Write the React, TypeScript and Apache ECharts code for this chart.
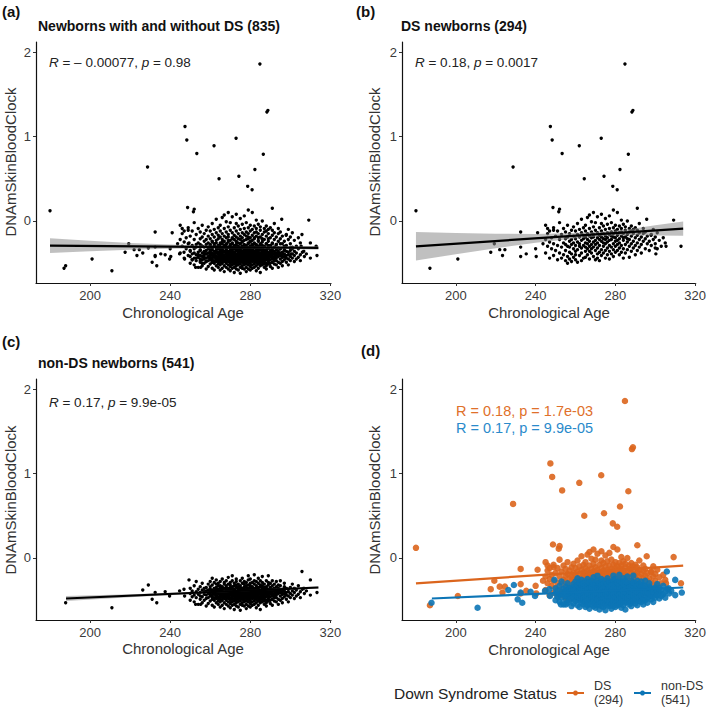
import React, { useEffect, useRef } from "react";
import * as echarts from "echarts";

// ---------- data ----------
const dsOutliers: [number, number][] = [
  [180, 0.12], [187, -0.56], [201, -0.45], [217.5, -0.37], [219.3, -0.27], [222, -0.34],
  [223.4, -0.41], [224.6, -0.34], [228.7, 0.64], [232.5, -0.13], [232.5, -0.31], [232.5, -0.42],
  [235.3, -0.39], [240, -0.33], [240.3, -0.42], [241, -0.14], [243.7, -0.27], [246, -0.09],
  [247.4, 1.12], [248.3, 0.96], [248.7, 0.16], [249, -0.11], [251.6, 0.11], [252, 0.14],
  [253.3, 0.8], [261.9, 0.89], [264.4, 0.5], [272.9, 0.98], [274.3, 0.53], [278.7, 0.41],
  [280.9, 0.37], [282.3, 0.61], [284.8, 1.86], [286.5, 0.79], [288.3, 1.29], [288.8, 1.31],
  [291, 0.15], [295.7, 0.02], [309.2, 0.01], [312.9, -0.3], [305.4, -0.3], [300, -0.32],
  [300.3, -0.39], [297.9, -0.17],
];

const dsCluster: [number, number[]][] = [
  [245, [-0.22, -0.38, -0.05]], [246, [-0.3, -0.15]], [247, [-0.44, -0.25, -0.12]],
  [248, [-0.33, -0.2]], [249, [-0.27, -0.41, -0.08]], [250, [-0.18, -0.35]],
  [251, [-0.29, -0.46, -0.12]], [252, [-0.22, -0.38, -0.02]], [253, [-0.31, -0.16, -0.44]],
  [254, [-0.26, -0.09, -0.4]], [255, [-0.35, -0.21, -0.47, -0.13, -0.28]],
  [256, [-0.19, -0.42, -0.3, -0.5, -0.05]], [257, [-0.24, -0.37, -0.15, -0.45, -0.31]],
  [258, [-0.28, -0.11, -0.39, -0.22, -0.48]], [259, [-0.33, -0.18, -0.43, -0.26, -0.07]],
  [260, [-0.21, -0.36, -0.12, -0.46, -0.29, -0.4]], [261, [-0.25, -0.49, -0.16, -0.34, -0.03]],
  [262, [-0.3, -0.19, -0.41, -0.1, -0.27]], [263, [-0.23, -0.38, -0.14, -0.47, -0.32, 0.02]],
  [264, [-0.17, -0.29, -0.44, -0.21, -0.08]], [265, [-0.26, -0.12, -0.36, -0.19, -0.43, -0.05, -0.31]],
  [266, [-0.22, -0.33, -0.15, -0.4, 0.04, -0.27]], [267, [-0.18, -0.3, -0.09, -0.45, -0.24, -0.36, 0.07]],
  [268, [-0.28, -0.13, -0.38, -0.2, -0.01, -0.33]], [269, [-0.16, -0.25, -0.42, -0.07, -0.31, -0.19, 0.1]],
  [270, [-0.23, -0.35, -0.11, -0.46, -0.28, -0.02]], [271, [-0.2, -0.32, -0.14, -0.39, 0.05, -0.26, -0.44]],
  [272, [-0.17, -0.29, -0.08, -0.37, -0.22, -0.47]], [273, [-0.24, -0.12, -0.34, -0.03, -0.19, -0.41, 0.08]],
  [274, [-0.21, -0.3, -0.15, -0.38, -0.06, -0.26]], [275, [-0.18, -0.27, -0.1, -0.35, -0.44, -0.22, 0.03]],
  [276, [-0.25, -0.14, -0.32, -0.04, -0.2, -0.4]], [277, [-0.16, -0.29, -0.09, -0.36, -0.23, 0.06, -0.45]],
  [278, [-0.22, -0.13, -0.31, -0.18, -0.39, -0.02]], [279, [-0.19, -0.27, -0.08, -0.34, -0.15, 0.13, -0.42]],
  [280, [-0.24, -0.12, -0.3, -0.05, -0.2, -0.37]], [281, [-0.17, -0.28, -0.1, -0.35, 0.1, -0.23]],
  [282, [-0.21, -0.14, -0.32, -0.06, -0.4, -0.26]], [283, [-0.18, -0.29, -0.09, -0.37, -0.13, 0.01]],
  [284, [-0.23, -0.15, -0.33, -0.04, -0.44, -0.2]], [285, [-0.19, -0.28, -0.11, -0.38, -0.07]],
  [286, [-0.16, -0.25, -0.34, 0.0, -0.21]], [287, [-0.22, -0.13, -0.3, -0.43, -0.09]],
  [288, [-0.18, -0.27, -0.06, -0.36, -0.12]], [289, [-0.24, -0.15, -0.1, -0.32]],
  [290, [-0.2, -0.29, -0.08, -0.4]], [291, [-0.17, -0.26, -0.35, -0.11]],
  [292, [-0.22, -0.14, -0.31, -0.03]], [293, [-0.19, -0.28, -0.38]], [294, [-0.15, -0.24, -0.09]],
  [295, [-0.21, -0.33, -0.13]], [296, [-0.18, -0.27]], [297, [-0.24, -0.35]], [298, [-0.16, -0.29]],
  [299, [-0.22, -0.1]], [300, [-0.27, -0.19]], [301, [-0.14, -0.33]], [302, [-0.23]],
  [303, [-0.3]], [304, [-0.2]], [305, [-0.26]],
];

const nonDSOutliers: [number, number][] = [
  [187.8, -0.53], [210.9, -0.59], [226.3, -0.38], [229.1, -0.32], [231, -0.49], [233.3, -0.53],
  [232.5, -0.41], [237.5, -0.4], [239.7, -0.45], [244.7, -0.39], [246.9, -0.37], [249.4, -0.26],
  [247.2, -0.45], [252.7, -0.55], [255.2, -0.55], [305.8, -0.16], [310, -0.26], [313.3, -0.41],
  [306.7, -0.36],
];

const nonDSCluster: [number, number[]][] = [
  [250, [-0.42, -0.36, -0.5]], [251, [-0.39, -0.46]], [252, [-0.44, -0.33, -0.52]],
  [253, [-0.4, -0.47, -0.28]], [254, [-0.37, -0.43, -0.55]], [255, [-0.41, -0.34, -0.49, -0.45]],
  [256, [-0.38, -0.46, -0.3, -0.53]], [257, [-0.43, -0.36, -0.5, -0.4]],
  [258, [-0.35, -0.44, -0.57, -0.39, -0.48]], [259, [-0.42, -0.31, -0.47, -0.38, -0.54]],
  [260, [-0.4, -0.45, -0.34, -0.51, -0.28, -0.43, -0.37]],
  [261, [-0.44, -0.38, -0.49, -0.32, -0.41, -0.56, -0.46, -0.24]],
  [262, [-0.36, -0.43, -0.5, -0.39, -0.29, -0.47, -0.41, -0.58]],
  [263, [-0.42, -0.35, -0.48, -0.31, -0.45, -0.38, -0.53, -0.44, -0.26]],
  [264, [-0.39, -0.46, -0.33, -0.51, -0.42, -0.37, -0.48, -0.55, -0.3]],
  [265, [-0.41, -0.36, -0.49, -0.44, -0.28, -0.52, -0.39, -0.46, -0.33, -0.58]],
  [266, [-0.43, -0.38, -0.47, -0.34, -0.5, -0.41, -0.25, -0.45, -0.56, -0.37]],
  [267, [-0.4, -0.46, -0.31, -0.53, -0.44, -0.36, -0.48, -0.42, -0.29, -0.6]],
  [268, [-0.37, -0.45, -0.5, -0.39, -0.33, -0.47, -0.42, -0.55, -0.27, -0.44, -0.35]],
  [269, [-0.42, -0.48, -0.36, -0.52, -0.4, -0.31, -0.45, -0.57, -0.38, -0.23, -0.46]],
  [270, [-0.39, -0.44, -0.5, -0.35, -0.47, -0.41, -0.29, -0.54, -0.43, -0.37, -0.59, -0.32]],
  [271, [-0.41, -0.46, -0.34, -0.52, -0.38, -0.44, -0.27, -0.49, -0.42, -0.56, -0.36, -0.21]],
  [272, [-0.43, -0.37, -0.48, -0.33, -0.51, -0.4, -0.45, -0.3, -0.55, -0.42, -0.61, -0.38]],
  [273, [-0.4, -0.46, -0.35, -0.5, -0.43, -0.28, -0.53, -0.39, -0.47, -0.32, -0.57, -0.44, -0.25]],
  [274, [-0.42, -0.37, -0.49, -0.34, -0.45, -0.52, -0.4, -0.31, -0.47, -0.58, -0.36, -0.43]],
  [275, [-0.38, -0.44, -0.51, -0.33, -0.46, -0.41, -0.27, -0.55, -0.39, -0.48, -0.35, -0.62, -0.42]],
  [276, [-0.41, -0.47, -0.36, -0.53, -0.43, -0.3, -0.49, -0.38, -0.45, -0.24, -0.56, -0.4]],
  [277, [-0.44, -0.39, -0.5, -0.34, -0.46, -0.42, -0.57, -0.31, -0.48, -0.37, -0.52, -0.41, -0.28]],
  [278, [-0.4, -0.45, -0.35, -0.51, -0.43, -0.29, -0.48, -0.38, -0.55, -0.42, -0.33, -0.6, -0.46]],
  [279, [-0.42, -0.37, -0.49, -0.32, -0.45, -0.52, -0.4, -0.26, -0.47, -0.36, -0.57, -0.43, -0.21]],
  [280, [-0.39, -0.44, -0.5, -0.35, -0.47, -0.41, -0.3, -0.54, -0.38, -0.46, -0.33, -0.58, -0.42, -0.25]],
  [281, [-0.43, -0.38, -0.48, -0.34, -0.45, -0.52, -0.4, -0.29, -0.47, -0.36, -0.56, -0.41]],
  [282, [-0.41, -0.46, -0.36, -0.51, -0.43, -0.31, -0.48, -0.39, -0.55, -0.44, -0.27, -0.37, -0.2]],
  [283, [-0.38, -0.44, -0.49, -0.33, -0.46, -0.41, -0.53, -0.36, -0.28, -0.47, -0.59, -0.42]],
  [284, [-0.42, -0.37, -0.48, -0.35, -0.45, -0.51, -0.3, -0.4, -0.56, -0.43, -0.24, -0.39]],
  [285, [-0.4, -0.46, -0.34, -0.5, -0.43, -0.38, -0.27, -0.53, -0.41, -0.47, -0.32, -0.61]],
  [286, [-0.44, -0.39, -0.49, -0.33, -0.45, -0.36, -0.52, -0.42, -0.29, -0.47, -0.22]],
  [287, [-0.41, -0.46, -0.37, -0.51, -0.43, -0.31, -0.48, -0.39, -0.55, -0.35, -0.44]],
  [288, [-0.38, -0.43, -0.5, -0.34, -0.46, -0.41, -0.27, -0.53, -0.4, -0.57, -0.36]],
  [289, [-0.42, -0.37, -0.48, -0.32, -0.45, -0.51, -0.4, -0.29, -0.44, -0.21]],
  [290, [-0.4, -0.46, -0.35, -0.5, -0.42, -0.3, -0.54, -0.38]],
  [291, [-0.43, -0.37, -0.49, -0.33, -0.45, -0.56, -0.4, -0.27]],
  [292, [-0.39, -0.45, -0.36, -0.51, -0.42, -0.31, -0.47]],
  [293, [-0.41, -0.47, -0.34, -0.52, -0.38, -0.44, -0.28]],
  [294, [-0.42, -0.36, -0.49, -0.39, -0.55, -0.32]],
  [295, [-0.38, -0.45, -0.33, -0.5, -0.41, -0.27]],
  [296, [-0.43, -0.37, -0.48, -0.4, -0.53]], [297, [-0.39, -0.46, -0.34, -0.42, -0.3]],
  [298, [-0.41, -0.36, -0.49, -0.44]], [299, [-0.37, -0.45, -0.4, -0.52]],
  [300, [-0.42, -0.35, -0.47]], [301, [-0.39, -0.44, -0.31]], [302, [-0.41, -0.48, -0.36]],
  [303, [-0.38, -0.45]], [304, [-0.43, -0.33]], [305, [-0.4, -0.47]], [306, [-0.37]],
  [307, [-0.42]], [308, [-0.39]], [310, [-0.44]],
];

// fitted lines (endpoints)
const fitAll: [number, number][] = [[180, -0.293], [314, -0.32]];
const fitDS: [number, number][] = [[180, -0.3], [314, -0.09]];
const fitNonDS: [number, number][] = [[188, -0.48], [314, -0.35]];

// confidence bands [x, lower, upper]
const bandAll: [number, number, number][] = [
  [180, -0.38, -0.206], [200, -0.359, -0.235], [220, -0.341, -0.261], [240, -0.33, -0.28],
  [260, -0.324, -0.294], [275, -0.324, -0.3], [290, -0.329, -0.301], [314, -0.342, -0.298],
];
const bandDS: [number, number, number][] = [
  [180, -0.468, -0.132], [200, -0.394, -0.144], [220, -0.322, -0.152], [240, -0.258, -0.154],
  [260, -0.208, -0.142], [270, -0.187, -0.131], [280, -0.173, -0.113], [290, -0.17, -0.086],
  [300, -0.172, -0.052], [314, -0.175, -0.005],
];
const bandNonDS: [number, number, number][] = [
  [188, -0.51, -0.45], [220, -0.465, -0.429], [250, -0.426, -0.406], [275, -0.396, -0.384],
  [300, -0.374, -0.354], [314, -0.364, -0.336],
];

const xTicks = [200, 240, 280, 320];
const yTicks = [0, 1, 2];

// ---------- chart ----------
const FONT = "'Liberation Sans', Arial, Helvetica, sans-serif";
const ORANGE = "#DB651D";
const BLUE = "#0C75B6";

const flatten = (rows: [number, number[]][]) =>
  rows.flatMap(([x, ys]) => ys.map((y) => [x, y] as [number, number]));

const dsPoints = [...dsOutliers, ...flatten(dsCluster)];
const nonDSPoints = [...nonDSOutliers, ...flatten(nonDSCluster)];
const allPoints = [...dsPoints, ...nonDSPoints];

const grids = [
  { left: 36, top: 42, width: 295, height: 241 },
  { left: 402, top: 42, width: 295, height: 241 },
  { left: 36, top: 379, width: 295, height: 241 },
  { left: 402, top: 379, width: 295, height: 241 },
];

function xAxisFor(i: number) {
  return {
    type: "value",
    gridIndex: i,
    min: 173,
    max: 320.3,
    axisLine: { show: true, onZero: false, lineStyle: { color: "#111", width: 1.2 } },
    axisTick: { show: true, customValues: xTicks, length: 3, lineStyle: { color: "#333" } },
    axisLabel: { customValues: xTicks, fontSize: 13, color: "#3a3a3a", margin: 6, fontFamily: FONT },
    splitLine: { show: false },
  };
}
function yAxisFor(i: number) {
  return {
    type: "value",
    gridIndex: i,
    min: -0.735,
    max: 2.12,
    axisLine: { show: true, onZero: false, lineStyle: { color: "#111", width: 1.2 } },
    axisTick: { show: true, customValues: yTicks, length: 3, lineStyle: { color: "#333" } },
    axisLabel: { customValues: yTicks, fontSize: 13, color: "#3a3a3a", margin: 5, fontFamily: FONT },
    splitLine: { show: false },
  };
}

function bandSeries(i: number, band: [number, number, number][]) {
  return {
    type: "custom",
    xAxisIndex: i,
    yAxisIndex: i,
    z: 3,
    silent: true,
    data: band,
    renderItem: (params: any, api: any) => {
      if (params.dataIndex !== 0) return null;
      const upper = band.map((r) => api.coord([r[0], r[2]]));
      const lower = band.map((r) => api.coord([r[0], r[1]])).reverse();
      return {
        type: "polygon",
        shape: { points: [...upper, ...lower] },
        style: { fill: "#8c8c8c", opacity: 0.55 },
      };
    },
  };
}

function lineSeries(i: number, data: [number, number][], color: string, width: number) {
  return {
    type: "line",
    xAxisIndex: i,
    yAxisIndex: i,
    data,
    z: 4,
    showSymbol: false,
    symbol: "none",
    silent: true,
    lineStyle: { color, width },
  };
}

function scatter(i: number, data: [number, number][], color: string, size: number, opacity = 1) {
  return {
    type: "scatter",
    xAxisIndex: i,
    yAxisIndex: i,
    data,
    z: 2,
    symbolSize: size,
    silent: true,
    itemStyle: { color, opacity },
  };
}

const txt = (x: number, y: number, text: string, opts: any = {}) => ({
  type: "text",
  x,
  y,
  silent: true,
  rotation: opts.rotation || 0,
  style: {
    text,
    fontFamily: FONT,
    fontSize: opts.fontSize || 14,
    fontWeight: opts.fontWeight || "normal",
    fill: opts.fill || "#222",
    align: opts.align || "left",
    verticalAlign: "middle",
    rich: opts.rich,
  },
});

const italicRich = {
  i: { fontStyle: "italic", fontSize: 13.5, fontFamily: FONT, fill: "#222" },
  n: { fontSize: 13.5, fontFamily: FONT, fill: "#222" },
};

const graphics = [
  txt(2, 11, "(a)", { fontWeight: "bold", fontSize: 15, fill: "#111" }),
  txt(356, 11, "(b)", { fontWeight: "bold", fontSize: 15, fill: "#111" }),
  txt(2, 341, "(c)", { fontWeight: "bold", fontSize: 15, fill: "#111" }),
  txt(361, 350, "(d)", { fontWeight: "bold", fontSize: 15, fill: "#111" }),
  txt(38, 26, "Newborns with and without DS (835)", { fontWeight: "bold", fontSize: 14, fill: "#111" }),
  txt(401, 26, "DS newborns (294)", { fontWeight: "bold", fontSize: 14, fill: "#111" }),
  txt(38, 363, "non-DS newborns (541)", { fontWeight: "bold", fontSize: 14, fill: "#111" }),
  // axis titles
  txt(10, 162, "DNAmSkinBloodClock", { rotation: Math.PI / 2, align: "center", fontSize: 15, fill: "#333" }),
  txt(374, 162, "DNAmSkinBloodClock", { rotation: Math.PI / 2, align: "center", fontSize: 15, fill: "#333" }),
  txt(10, 500, "DNAmSkinBloodClock", { rotation: Math.PI / 2, align: "center", fontSize: 15, fill: "#333" }),
  txt(374, 500, "DNAmSkinBloodClock", { rotation: Math.PI / 2, align: "center", fontSize: 15, fill: "#333" }),
  txt(183, 312, "Chronological Age", { align: "center", fontSize: 15, fill: "#333" }),
  txt(549, 312, "Chronological Age", { align: "center", fontSize: 15, fill: "#333" }),
  txt(183, 648, "Chronological Age", { align: "center", fontSize: 15, fill: "#333" }),
  txt(549, 649, "Chronological Age", { align: "center", fontSize: 15, fill: "#333" }),
  // correlation annotations
  txt(49, 62, "{i|R}{n| = – 0.00077, }{i|p}{n| = 0.98}", { rich: italicRich }),
  txt(415, 62, "{i|R}{n| = 0.18, }{i|p}{n| = 0.0017}", { rich: italicRich }),
  txt(49, 402, "{i|R}{n| = 0.17, }{i|p}{n| = 9.9e-05}", { rich: italicRich }),
  txt(456, 411, "R = 0.18, p = 1.7e-03", { fontSize: 14.5, fill: "#E0702A" }),
  txt(456, 428, "R = 0.17, p = 9.9e-05", { fontSize: 14.5, fill: "#2A8ACB" }),
  // legend
  txt(394, 693, "Down Syndrome Status", { fontSize: 15.5, fill: "#222" }),
  { type: "line", shape: { x1: 567, y1: 693, x2: 584, y2: 693 }, style: { stroke: ORANGE, lineWidth: 2 } },
  { type: "circle", shape: { cx: 575.5, cy: 693, r: 2.5 }, style: { fill: ORANGE } },
  txt(594, 685.5, "DS", { fontSize: 12.5, fill: "#333" }),
  txt(594, 700, "(294)", { fontSize: 12.5, fill: "#333" }),
  { type: "line", shape: { x1: 634, y1: 693, x2: 651, y2: 693 }, style: { stroke: BLUE, lineWidth: 2 } },
  { type: "circle", shape: { cx: 642.5, cy: 693, r: 2.5 }, style: { fill: BLUE } },
  txt(661, 685.5, "non-DS", { fontSize: 12.5, fill: "#333" }),
  txt(661, 700, "(541)", { fontSize: 12.5, fill: "#333" }),
];

const option = {
  animation: false,
  backgroundColor: "#ffffff",
  grid: grids,
  xAxis: [0, 1, 2, 3].map(xAxisFor),
  yAxis: [0, 1, 2, 3].map(yAxisFor),
  series: [
    scatter(0, allPoints, "#000", 3.4),
    bandSeries(0, bandAll),
    lineSeries(0, fitAll, "#000", 2.2),
    scatter(1, dsPoints, "#000", 3.4),
    bandSeries(1, bandDS),
    lineSeries(1, fitDS, "#000", 2.2),
    scatter(2, nonDSPoints, "#000", 3.4),
    bandSeries(2, bandNonDS),
    lineSeries(2, fitNonDS, "#000", 2.2),
    scatter(3, dsPoints, ORANGE, 6.5, 0.9),
    scatter(3, nonDSPoints, BLUE, 6.5, 0.9),
    lineSeries(3, fitDS, ORANGE, 2.2),
    lineSeries(3, fitNonDS, BLUE, 2.2),
  ],
  graphic: graphics,
};

export default function App() {
  const ref = useRef<HTMLDivElement>(null);
  useEffect(() => {
    const chart = echarts.init(ref.current!, null, { renderer: "svg" });
    chart.setOption(option as any);
    return () => chart.dispose();
  }, []);
  return (
    <div
      ref={ref}
      style={{ position: "fixed", left: 0, top: 0, width: 709, height: 710, background: "#fff" }}
    />
  );
}
